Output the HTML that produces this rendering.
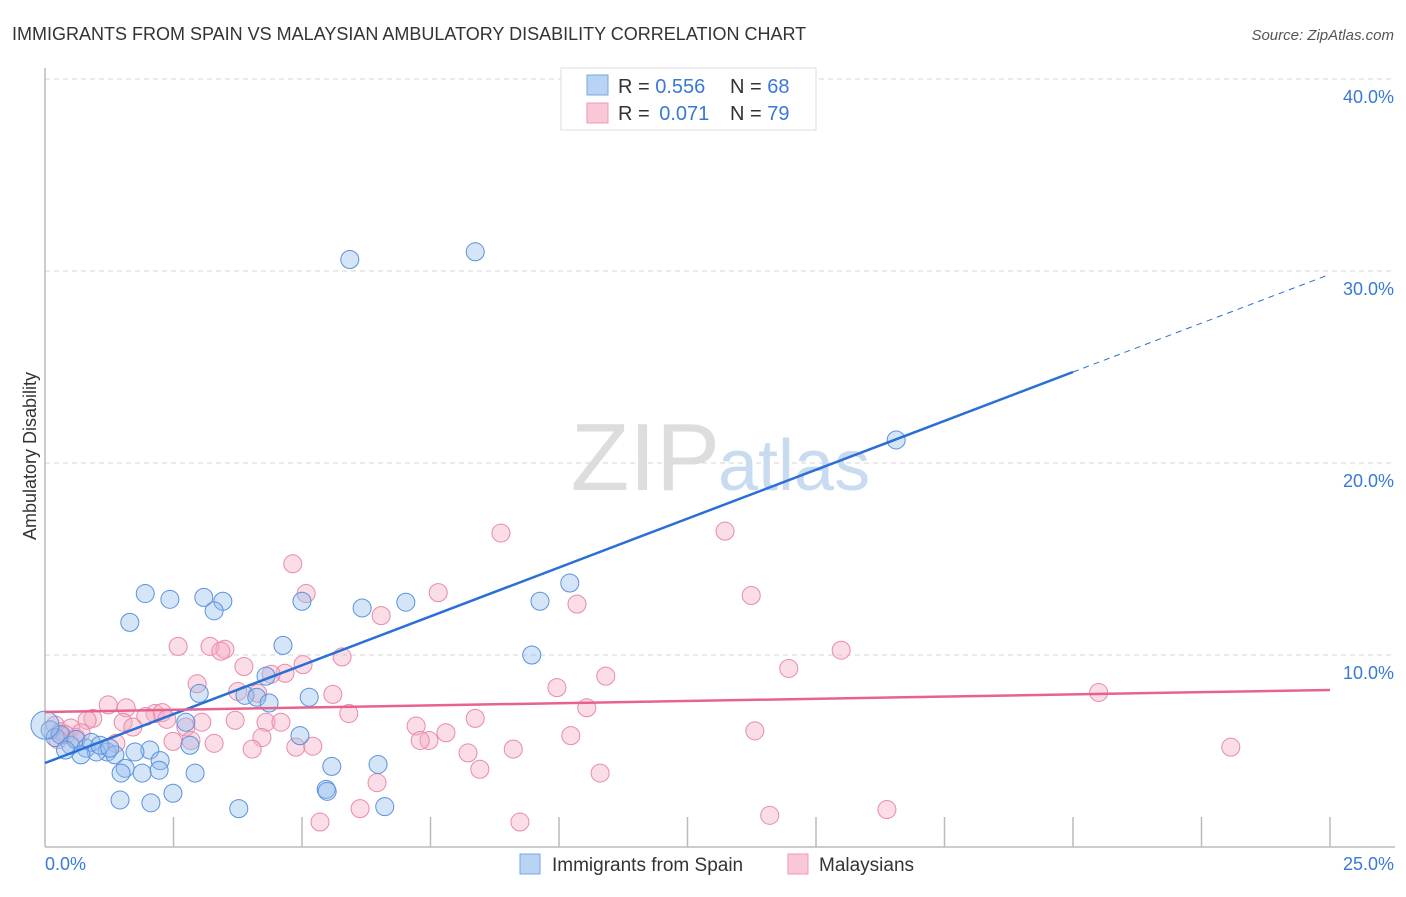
<!DOCTYPE html>
<html><head><meta charset="utf-8"><style>
body{margin:0;background:#fff;font-family:"Liberation Sans",sans-serif;}
svg text{font-family:"Liberation Sans",sans-serif;}
</style></head><body>
<svg id="chart" width="1406" height="892" viewBox="0 0 1406 892" xmlns="http://www.w3.org/2000/svg">
<text x="12" y="40" font-size="18" fill="#333">IMMIGRANTS FROM SPAIN VS MALAYSIAN AMBULATORY DISABILITY CORRELATION CHART</text>
<text x="1394" y="40" font-size="15" fill="#555" font-style="italic" text-anchor="end">Source: ZipAtlas.com</text>
<g id="grid"></g>
<g id="yticks"></g>
<line x1="45" y1="68" x2="45" y2="847" stroke="#bbb" stroke-width="1.5"/>
<line x1="45" y1="847" x2="1395" y2="847" stroke="#bbb" stroke-width="1.5"/>
<g id="xticks"></g>
<text x="720" y="490" font-size="96" fill="#ddd" text-anchor="end" font-family="Liberation Serif">ZIP</text>
<text x="718" y="490" font-size="72" fill="#c8dbf0">atlas</text>
<text x="36" y="456" font-size="18" fill="#333" text-anchor="middle" transform="rotate(-90 36 456)">Ambulatory Disability</text>
<text x="45" y="870" font-size="18" fill="#3a78d8">0.0%</text>
<text x="1394" y="870" font-size="18" fill="#3a78d8" text-anchor="end">25.0%</text>
<g id="pts"></g>
<g id="trends"></g>
<g>
<rect x="561" y="68" width="255" height="62" fill="#fff" stroke="#ddd"/>
<rect x="587" y="75" width="21" height="20" fill="#b9d3f4" stroke="#7aa6e0"/>
<rect x="587" y="103" width="21" height="20" fill="#f9c8d6" stroke="#eb9ab2"/>
<text x="618" y="93" font-size="20" fill="#333">R = <tspan fill="#3a78d8">0.556</tspan><tspan x="730">N = </tspan><tspan fill="#3a78d8">68</tspan></text>
<text x="618" y="120" font-size="20" fill="#333">R = <tspan fill="#3a78d8" dx="4">0.071</tspan><tspan x="730">N = </tspan><tspan fill="#3a78d8">79</tspan></text>
</g>
<g>
<rect x="520" y="854" width="20" height="20" fill="#b9d3f4" stroke="#7aa6e0"/>
<text x="552" y="871" font-size="19" fill="#333">Immigrants from Spain</text>
<rect x="788" y="854" width="20" height="20" fill="#f9c8d6" stroke="#eb9ab2"/>
<text x="819" y="871" font-size="19" fill="#333">Malaysians</text>
</g>
</svg>
<script>
const yTicks=[10,20,30,40];
const xTickVals=[2.5,5,7.5,10,12.5,15,17.5,20,22.5,25];
const spainX=[5.93,8.37,16.56,1.95,2.43,3.09,3.46,3.29,1.65,5.0,6.17,7.02,10.21,9.63,4.63,9.47,4.3,3.0,3.89,4.12,4.36,5.14,2.74,4.96,2.82,2.04,1.75,1.21,1.36,2.24,1.56,1.48,1.89,2.22,2.92,5.58,6.48,2.49,1.46,2.06,3.77,5.47,5.49,6.61,0.1,0.2,0.3,0.5,0.6,0.8,0.9,1.0,1.07,0.7,0.4,1.26,0.0];
const spainY=[30.6,31.0,21.2,13.2,12.9,13.0,12.8,12.3,11.7,12.8,12.45,12.75,13.75,12.8,10.5,10.0,8.9,8.0,7.9,7.8,7.5,7.8,6.5,5.8,5.3,5.05,4.95,4.95,4.8,4.5,4.1,3.85,3.85,4.0,3.85,4.2,4.3,2.8,2.45,2.3,2.0,3.0,2.9,2.1,6.1,5.7,5.85,5.3,5.6,5.15,5.45,4.95,5.3,4.8,5.05,5.15,6.35];
const malX=[4.82,8.87,13.23,5.08,7.65,13.74,10.35,6.54,2.59,3.21,3.5,3.42,15.49,5.78,3.87,5.02,4.67,4.4,14.47,10.91,20.5,2.96,3.75,4.14,5.6,9.96,1.23,1.58,10.54,5.91,2.14,2.28,1.96,0.93,0.82,1.52,2.37,3.05,3.7,4.3,4.59,8.37,7.22,1.71,2.74,7.8,10.23,13.81,4.22,7.47,7.3,2.49,2.84,3.29,1.38,4.88,5.21,4.03,9.11,8.23,23.07,8.46,10.8,6.46,6.13,5.35,9.24,14.1,16.38,0.2,0.3,0.5,0.6,0.4,0.25,0.7];
const malY=[14.75,16.35,16.45,13.2,13.25,13.1,12.65,12.05,10.45,10.45,10.3,10.2,10.25,9.9,9.4,9.5,9.05,9.0,9.3,8.9,8.05,8.5,8.1,8.0,7.95,8.3,7.4,7.25,7.25,6.95,6.95,7.0,6.8,6.7,6.6,6.5,6.65,6.5,6.6,6.5,6.5,6.7,6.3,6.25,6.25,5.95,5.8,6.05,5.7,5.55,5.55,5.5,5.55,5.4,5.4,5.2,5.25,5.1,5.1,4.9,5.2,4.05,3.85,3.35,2.0,1.3,1.3,1.65,1.95,6.35,6.0,6.2,5.7,5.85,5.6,5.95];
const spainTrend=[4.375,29.83];
const malTrend=[7.03,8.18];
const trendSolidEnd=20;
const X=v=>45+v*51.4, Y=v=>847-v*19.2;
const NS='http://www.w3.org/2000/svg';
function mk(tag,attrs,parent){const e=document.createElementNS(NS,tag);for(const k in attrs)e.setAttribute(k,attrs[k]);parent.appendChild(e);return e;}
const grid=document.getElementById('grid'),yt=document.getElementById('yticks'),xt=document.getElementById('xticks');
yTicks.forEach(v=>{
 const l=mk('line',{x1:45,x2:1395,y1:Y(v),y2:Y(v),stroke:'#d6d6d6','stroke-dasharray':'5,4'},grid);
 
 
 const t=mk('text',{x:1394,y:Y(v)+24,'font-size':18,fill:'#3a78d8','text-anchor':'end'},yt);
 t.textContent=v.toFixed(1)+'%';
 
 
});
xTickVals.forEach(v=>{
 const l=mk('line',{x1:X(v),x2:X(v),y1:817,y2:847,stroke:'#bbb','stroke-width':1.5},xt);
 
 
});
const pts=document.getElementById('pts');
malX.forEach((x,i)=>{
 const c=mk('circle',{cx:X(x),cy:Y(malY[i]),r:9,fill:'rgba(246,170,195,0.4)',stroke:'#e98aa8','stroke-width':1},pts);
 
 
});
spainX.forEach((x,i)=>{
 const c=mk('circle',{cx:X(x),cy:Y(spainY[i]),r:i===spainX.length-1?14:9,fill:'rgba(150,190,238,0.4)',stroke:'#5a92dc','stroke-width':1},pts);
 
 
});
const tr=document.getElementById('trends');
const sAt=x=>spainTrend[0]+(spainTrend[1]-spainTrend[0])*x/25;
let l1=mk('line',{x1:X(0),y1:Y(sAt(0)),x2:X(trendSolidEnd),y2:Y(sAt(trendSolidEnd)),stroke:'#2a6fd6','stroke-width':2.5},tr);


let l2=mk('line',{x1:X(trendSolidEnd),y1:Y(sAt(trendSolidEnd)),x2:X(25),y2:Y(sAt(25)),stroke:'#2a6fd6','stroke-width':1,'stroke-dasharray':'6,5'},tr);


let l3=mk('line',{x1:X(0),y1:Y(malTrend[0]),x2:X(25),y2:Y(malTrend[1]),stroke:'#e8628f','stroke-width':2.5},tr);


</script>
</body></html>
